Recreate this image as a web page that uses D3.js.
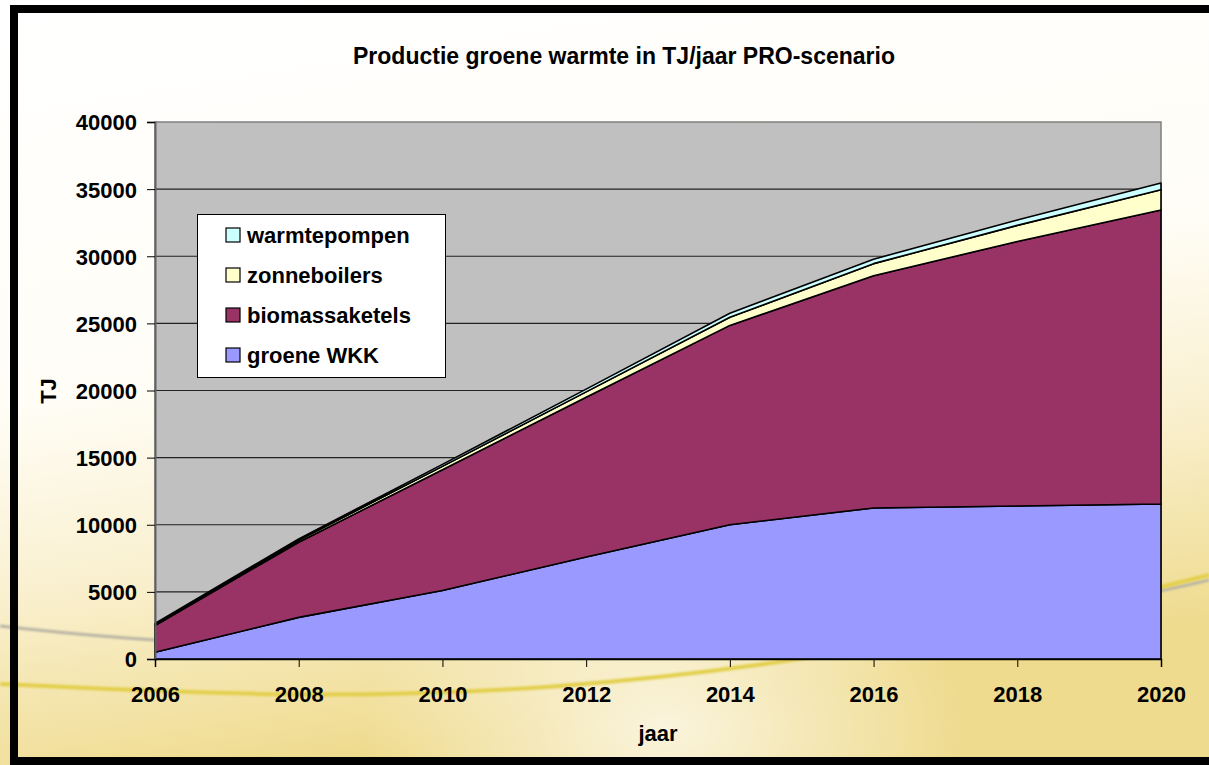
<!DOCTYPE html>
<html>
<head>
<meta charset="utf-8">
<script src="https://cdn.jsdelivr.net/npm/d3@7/dist/d3.min.js"></script>
<style>
  html, body { margin: 0; padding: 0; background: #fff; overflow: hidden; }
  svg { display: block; }
  svg text { font-family: "Liberation Sans", Arial, sans-serif; font-weight: bold; fill: #000; }
</style>
</head>
<body>
<svg id="chart" width="1209" height="765"></svg>
<script>
// data (TJ per year)
var years = [2006, 2008, 2010, 2012, 2014, 2016, 2018, 2020];
var groeneWKK = [500, 3100, 5100, 7600, 10000, 11250, 11400, 11550];
var biomassaketels = [2000, 5600, 9000, 11900, 14850, 17300, 19700, 21900];
var zonneboilers = [80, 150, 250, 400, 600, 900, 1200, 1500];
var warmtepompen = [70, 100, 150, 200, 300, 330, 400, 500];
var seriesNames = ["groene WKK", "biomassaketels", "zonneboilers", "warmtepompen"];
var seriesColors = ["#9999ff", "#993366", "#ffffcc", "#ccffff"];
var yTicks = [0, 5000, 10000, 15000, 20000, 25000, 30000, 35000, 40000];

var svg = d3.select("#chart");
var W = 1209, H = 765;

// background
var defs = svg.append("defs");
var bg = defs.append("linearGradient").attr("id", "bgGrad")
  .attr("x1", 0).attr("y1", 0).attr("x2", 0.25).attr("y2", 1);
bg.append("stop").attr("offset", "0").attr("stop-color", "#ffffff");
bg.append("stop").attr("offset", "0.5").attr("stop-color", "#fffdf6");
bg.append("stop").attr("offset", "0.72").attr("stop-color", "#faf1d2");
bg.append("stop").attr("offset", "1").attr("stop-color", "#efdb8e");
var glow = defs.append("radialGradient").attr("id", "glow")
  .attr("cx", 0.55).attr("cy", 0.95).attr("r", 0.25);
glow.append("stop").attr("offset", "0").attr("stop-color", "#ffffff").attr("stop-opacity", 0.7);
glow.append("stop").attr("offset", "1").attr("stop-color", "#ffffff").attr("stop-opacity", 0);
defs.append("filter").attr("id", "soft").append("feGaussianBlur").attr("stdDeviation", 1.2);

svg.append("rect").attr("width", W).attr("height", H).attr("fill", "url(#bgGrad)");
svg.append("rect").attr("width", W).attr("height", H).attr("fill", "url(#glow)");

// decorative swooshes in the background
var swoosh = d3.line().curve(d3.curveBasis);
svg.append("path")
  .attr("d", swoosh([[0, 626], [150, 642], [400, 650], [800, 635], [1100, 605], [1209, 580]]))
  .attr("fill", "none").attr("stroke", "#b8b4a4").attr("stroke-width", 3).attr("filter", "url(#soft)");
svg.append("path")
  .attr("d", swoosh([[0, 684], [300, 698], [550, 690], [800, 662], [1050, 615], [1209, 575]]))
  .attr("fill", "none").attr("stroke", "#e2cf4c").attr("stroke-width", 4).attr("filter", "url(#soft)");

// frame: top, left and bottom only
svg.append("path")
  .attr("d", "M" + W + ",9 H14 V761 H" + W)
  .attr("fill", "none").attr("stroke", "#000").attr("stroke-width", 8);

// plot area
var margin = { left: 155, top: 122, right: 1161, bottom: 659 };

var x = d3.scaleLinear().domain([2006, 2020]).range([margin.left, margin.right]);
var y = d3.scaleLinear().domain([0, 40000]).range([margin.bottom, margin.top]);

svg.append("rect")
  .attr("x", margin.left).attr("y", margin.top)
  .attr("width", margin.right - margin.left).attr("height", margin.bottom - margin.top)
  .attr("fill", "#c0c0c0").attr("stroke", "#808080").attr("stroke-width", 1.5);

// gridlines
svg.append("g").selectAll("line")
  .data(yTicks.filter(function(d) { return d > 0 && d < 40000; }))
  .join("line")
  .attr("x1", margin.left).attr("x2", margin.right)
  .attr("y1", function(d) { return y(d); }).attr("y2", function(d) { return y(d); })
  .attr("stroke", "#222").attr("stroke-width", 1.2);

// stacked areas
var table = years.map(function(yr, i) {
  return {
    year: yr,
    "groene WKK": groeneWKK[i],
    "biomassaketels": biomassaketels[i],
    "zonneboilers": zonneboilers[i],
    "warmtepompen": warmtepompen[i]
  };
});
var stack = d3.stack().keys(seriesNames);
var layers = stack(table);

var area = d3.area()
  .x(function(d) { return x(d.data.year); })
  .y0(function(d) { return y(d[0]); })
  .y1(function(d) { return y(d[1]); });

svg.append("g").selectAll("path")
  .data(layers)
  .join("path")
  .attr("d", area)
  .attr("fill", function(d, i) { return seriesColors[i]; })
  .attr("stroke", "#000").attr("stroke-width", 1.6).attr("stroke-linejoin", "round");

// axes
var yAxis = d3.axisLeft(y).tickValues(yTicks).tickSize(8).tickPadding(10).tickFormat(d3.format("d"));
var gy = svg.append("g").attr("transform", "translate(" + margin.left + ",0)").call(yAxis);
gy.select(".domain").attr("stroke", "#606060").attr("stroke-width", 2);
gy.selectAll(".tick line").attr("stroke", "#000");
gy.selectAll(".tick text").attr("font-size", 22).attr("dy", "0.36em");

var xAxis = d3.axisBottom(x).tickValues(years).tickSize(8).tickPadding(19).tickFormat(d3.format("d"));
var gx = svg.append("g").attr("transform", "translate(0," + margin.bottom + ")").call(xAxis);
gx.select(".domain").attr("stroke", "#000").attr("stroke-width", 1.5);
gx.selectAll(".tick line").attr("stroke", "#000");
gx.selectAll(".tick text").attr("font-size", 22);
svg.selectAll(".tick text").attr("fill", "#000").style("font-family", "'Liberation Sans', Arial, sans-serif");

// titles
svg.append("text").attr("x", 624).attr("y", 64).attr("text-anchor", "middle")
  .attr("font-size", 23).text("Productie groene warmte in TJ/jaar PRO-scenario");
svg.append("text").attr("x", 658).attr("y", 741).attr("text-anchor", "middle")
  .attr("font-size", 22).text("jaar");
svg.append("text").attr("transform", "translate(56,391) rotate(-90)").attr("text-anchor", "middle")
  .attr("font-size", 22).text("TJ");

// legend (top series first)
var legend = svg.append("g");
legend.append("rect").attr("x", 197.5).attr("y", 214.5).attr("width", 248).attr("height", 163)
  .attr("fill", "#fff").attr("stroke", "#000").attr("stroke-width", 1);
var legendOrder = [3, 2, 1, 0];
var items = legend.selectAll("g.item").data(legendOrder).join("g")
  .attr("transform", function(d, i) { return "translate(0," + (i * 40) + ")"; });
items.append("rect").attr("x", 226).attr("y", 228).attr("width", 14).attr("height", 14)
  .attr("fill", function(d) { return seriesColors[d]; })
  .attr("stroke", "#000").attr("stroke-width", 1.2);
items.append("text").attr("x", 247).attr("y", 243).attr("font-size", 22)
  .text(function(d) { return seriesNames[d]; });
</script>
</body>
</html>
